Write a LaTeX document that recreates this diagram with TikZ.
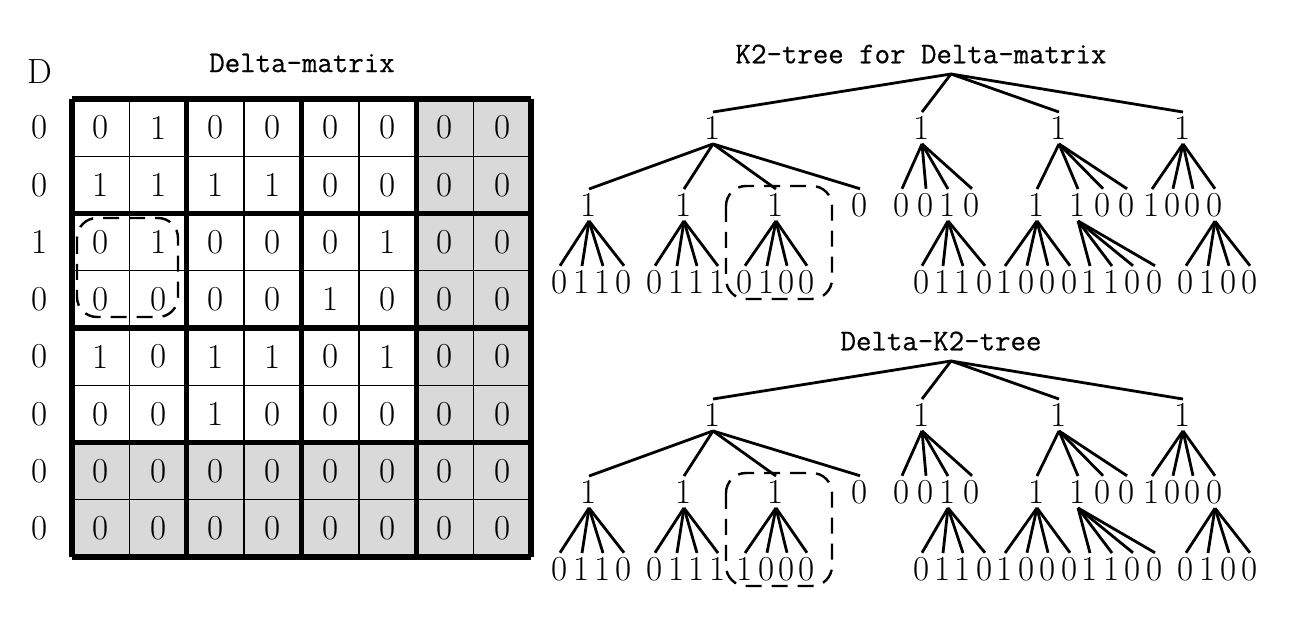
\documentclass[tikz,border=0pt]{standalone}
\usepackage{fontspec}
\usepackage{tikz}
\newfontfamily\titlemono[FakeBold=0.6]{Latin Modern Mono}
\definecolor{cellgrey}{HTML}{D9D9D9}
\tikzset{
  bit/.style={inner sep=2pt, font=\fontsize{17.5}{20}\selectfont},
  title/.style={font=\titlemono\fontsize{15}{18}\selectfont},
  branch/.style={line width=1.4pt},
  thinrule/.style={line width=0.7pt},
  thickrule/.style={line width=2.6pt},
  marked/.style={line width=1.2pt, dash pattern=on 8pt off 5pt, rounded corners=10pt}
}
\begin{document}
\begin{tikzpicture}[x=0.5pt, y=-0.5pt]
    \useasboundingbox (0,0) rectangle (1297,625);
    % Delta-matrix with row labels D
    \node[title] (mtitle) at (302,63) {Delta-matrix};
    \node[bit] (dlabel) at (40,72) {D};
    \fill[cellgrey] (416.6,99) rectangle (531,557);
    \fill[cellgrey] (72,442.4) rectangle (531,557);
    \foreach \i in {1,3,5,7} {
        \draw[thinrule] ({72+\i*57.375},99) -- ({72+\i*57.375},557);
        \draw[thinrule] (72,{99+\i*57.25}) -- (531,{99+\i*57.25});
    }
    \foreach \i in {0,2,4,6,8} {
        \draw[thickrule] ({72+\i*57.375},99) -- ({72+\i*57.375},557);
        \draw[thickrule] (72,{99+\i*57.25}) -- (531,{99+\i*57.25});
    }
    \foreach \row [count=\r] in {{0,1,0,0,0,0,0,0},{1,1,1,1,0,0,0,0},{0,1,0,0,0,1,0,0},
        {0,0,0,0,1,0,0,0},{1,0,1,1,0,1,0,0},{0,0,1,0,0,0,0,0},
        {0,0,0,0,0,0,0,0},{0,0,0,0,0,0,0,0}} {
        \foreach \v [count=\c] in \row
            \node[bit] (m\r-\c) at ({72+(\c-0.5)*57.375},{99+(\r-0.5)*57.25}) {\v};
    }
    \foreach \v [count=\r] in {0,0,1,0,0,0,0,0}
        \node[bit] (d\r) at (40,{99+(\r-0.5)*57.25}) {\v};
    % marked 2x2 block
    \draw[marked] (77,218) rectangle (178,317);
    % the two trees: K2-tree (top) and Delta-K2-tree (bottom)
    \foreach \t/\dy/\tx/\name/\pa/\pb/\pc/\pd in {k/0/921/K2-tree for Delta-matrix/0/1/0/0,
                                                 dk/287/941/Delta-K2-tree/1/0/0/0} {
        \begin{scope}[shift={(0,\dy)}]
            \node[title] (\t-title) at (\tx,54) {\name};
            \coordinate (\t-root) at (951,74);
            % level 1
            \foreach \n/\x in {a/713,b/922,c/1059,d/1183} {
                \node[bit] (\t-\n) at (\x,128) {1};
                \draw[branch] (\t-root) -- (\t-\n.north);
            }
            % level 2
            \foreach \n/\p/\x/\v in {a1/a/589/1, a2/a/684/1, a3/a/776/1, a4/a/860/0,
                                     b1/b/902/0, b2/b/926/0, b3/b/948/1, b4/b/972/0,
                                     c1/c/1037/1, c2/c/1078/1, c3/c/1103/0, c4/c/1127/0,
                                     d1/d/1152/1, d2/d/1173/0, d3/d/1193/0, d4/d/1215/0} {
                \node[bit] (\t-\n) at (\x,205) {\v};
                \draw[branch] (\t-\p.south) -- (\t-\n.north);
            }
            % leaves
            \foreach \p/\x/\v [count=\i] in {a1/560/0, a1/582/1, a1/603/1, a1/624/0,
                                             a2/655/0, a2/677/1, a2/697/1, a2/718/1,
                                             a3/745/\pa, a3/767/\pb, a3/787/\pc, a3/807/\pd,
                                             b3/922/0, b3/943/1, b3/963/1, b3/985/0,
                                             c1/1005/1, c1/1027/0, c1/1048/0, c1/1070/0,
                                             c2/1090/1, c2/1112/1, c2/1133/0, c2/1155/0,
                                             d4/1186/0, d4/1208/1, d4/1229/0, d4/1250/0} {
                \node[bit] (\t-l\i) at (\x,282) {\v};
                \draw[branch] (\t-\p.south) -- (\t-l\i.north);
            }
            % marked subtree
            \draw[marked] (726,186) rectangle (832,299);
        \end{scope}
    }
\end{tikzpicture}
\end{document}
